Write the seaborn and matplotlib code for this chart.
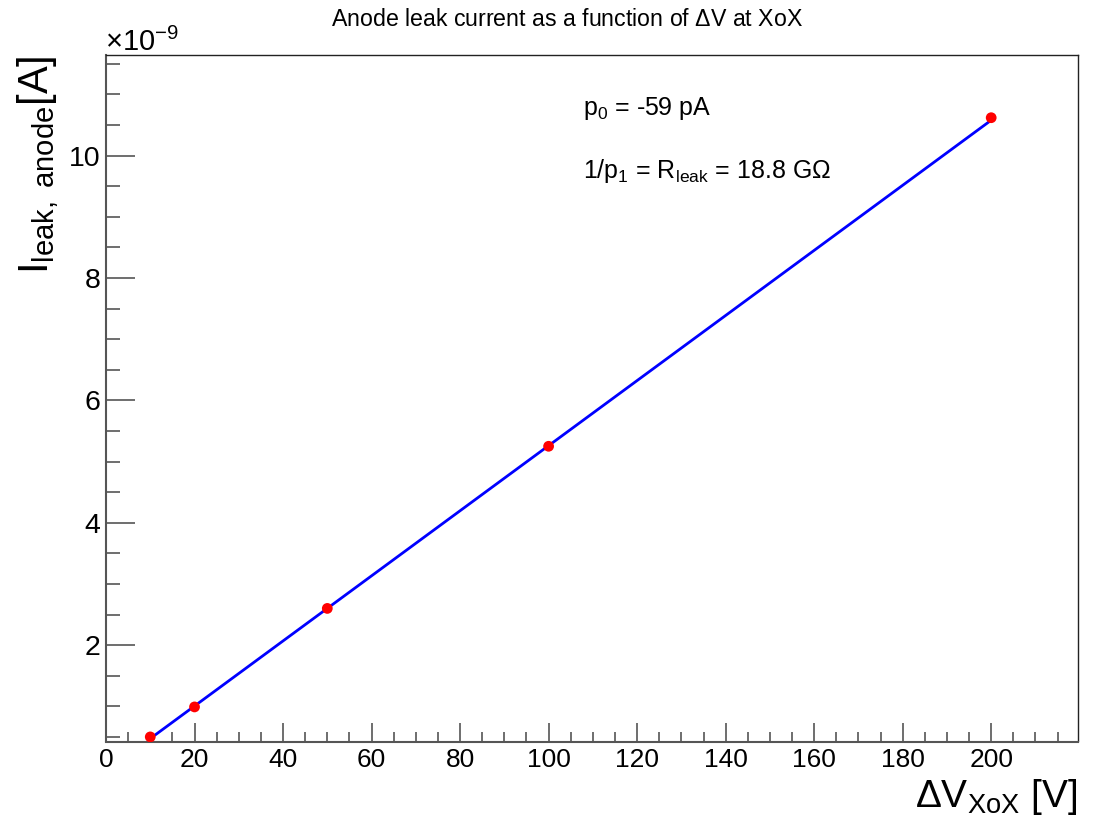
import numpy as np
import pandas as pd
import matplotlib
matplotlib.use("Agg")
import matplotlib.pyplot as plt
import seaborn as sns
from matplotlib.ticker import MultipleLocator

# Data (current in units of 1e-9 A)
voltage = [10, 20, 50, 100, 200]
current_nA = [0.50, 0.99, 2.60, 5.25, 10.62]

# Fit parameters
p0_nA = -0.059       # offset, nA
R_leak_G = 18.8      # GOhm
fit_x = [11, 200]
fit_y = [p0_nA + v / R_leak_G for v in fit_x]

sns.set_theme(style="white")
plt.rcParams['font.family'] = ['Liberation Sans', 'DejaVu Sans']
plt.rcParams['mathtext.fontset'] = 'custom'
plt.rcParams['mathtext.rm'] = 'Liberation Sans'
plt.rcParams['mathtext.it'] = 'Liberation Sans'
plt.rcParams['mathtext.bf'] = 'Liberation Sans:bold'
plt.rcParams['mathtext.sf'] = 'Liberation Sans'

df = pd.DataFrame({"V": voltage, "I": current_nA})
fit_df = pd.DataFrame({"V": fit_x, "I": fit_y})

fig = plt.figure(figsize=(10.97, 8.22), dpi=100)
ax = fig.add_axes([106/1097, 1-741.5/822, (1077.5-106)/1097, (741.5-55.3)/822])

sns.lineplot(data=fit_df, x="V", y="I", ax=ax, color="#0000ff", linewidth=2.0, zorder=2)
sns.scatterplot(data=df, x="V", y="I", ax=ax, color="#ff0000", s=60, edgecolor="none", zorder=3)

ax.set_xlim(0, 219.5)
ax.set_ylim(0.425, 11.64)

ax.xaxis.set_major_locator(MultipleLocator(20))
ax.xaxis.set_minor_locator(MultipleLocator(5))
ax.yaxis.set_major_locator(MultipleLocator(2))
ax.yaxis.set_minor_locator(MultipleLocator(0.5))

tick_col = "#555555"
ax.tick_params(axis='x', which='major', direction='in', length=14, width=1.2, color=tick_col,
               labelsize=19, pad=5, bottom=True, top=False)
ax.tick_params(axis='x', which='minor', direction='in', length=7, width=1.2, color=tick_col,
               bottom=True, top=False)
ax.tick_params(axis='y', which='major', direction='in', length=21, width=1.2, color=tick_col,
               labelsize=20.5, pad=4, left=True, right=False)
ax.tick_params(axis='y', which='minor', direction='in', length=10, width=1.2, color=tick_col,
               left=True, right=False)
ax.tick_params(labelcolor="black")

for side in ['left', 'bottom']:
    ax.spines[side].set_color(tick_col)
    ax.spines[side].set_linewidth(1.5)
for side in ['top', 'right']:
    ax.spines[side].set_color("#222222")
    ax.spines[side].set_linewidth(1.0)

ax.set_xlabel("")
ax.set_ylabel("")

fig.text(567/1097, 1-20/822, r"Anode leak current as a function of $\Delta$V at XoX",
         ha='center', va='center', fontsize=16.7, color='black')

fig.text(1077/1097, 1-797/822, r"$\Delta$V$_{\mathregular{XoX}}$ [V]",
         ha='right', va='center', fontsize=28, color='black')

fig.text(38/1097, 1-55/822, r"I$_{\mathregular{leak,\ anode}}$[A]",
         ha='center', va='top', rotation=90, fontsize=30, color='black')

fig.text(105/1097, 1-42/822, r"$\times$10$^{-9}$", ha='left', va='center',
         fontsize=21, color='black')

ax.text(0.4905, 0.922, r"p$_{0}$ = -59 pA", transform=ax.transAxes, ha='left', va='center',
        fontsize=18, color='black')
ax.text(0.4905, 0.832, r"1/p$_{1}$ = R$_{\mathregular{leak}}$ = 18.8 G$\Omega$", transform=ax.transAxes,
        ha='left', va='center', fontsize=18, color='black')

fig.savefig("out.png", dpi=100, facecolor='white')
